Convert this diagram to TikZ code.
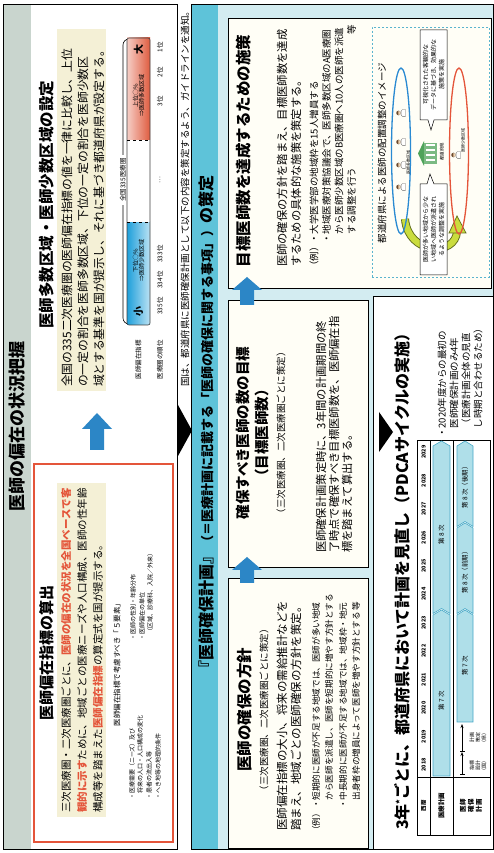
\documentclass[tikz,border=0pt]{standalone}
\usepackage{fontspec}
\setmainfont{Noto Sans CJK JP}
\usetikzlibrary{arrows.meta}

\definecolor{bandgray}{HTML}{C9D5CE}
\definecolor{hlbeige}{HTML}{F4F0D6}
\definecolor{accred}{HTML}{E4553A}
\definecolor{arrblue}{HTML}{2C86C6}
\definecolor{stripcyan}{HTML}{5EC3D9}
\definecolor{bgcyan}{HTML}{D3ECF1}
\definecolor{barcyan}{HTML}{AFDFE9}
\definecolor{barline}{HTML}{48A9C7}
\definecolor{boxcream}{HTML}{FFFEF6}
\definecolor{rankblue}{HTML}{1E9FDA}
\definecolor{rankred}{HTML}{DF5C40}
\definecolor{dashcyan}{HTML}{5AB4CE}
\definecolor{ovblue}{HTML}{2A8AD2}
\definecolor{skin}{HTML}{F2D2AE}
\definecolor{hair}{HTML}{6B4A2E}
\definecolor{bldgreen}{HTML}{4FA35A}
\definecolor{yarrow}{HTML}{CADC3E}
\definecolor{yedge}{HTML}{5F6B1A}

\newcommand\fsz[1]{\fontsize{#1}{#1}\selectfont}
\newcommand\redtxt[1]{\textcolor{accred}{\bfseries #1}}
% block arrow pointing to +u: from u=#1 to u=#2, centred on v=#3,
% shaft half-width #4, head half-width #5, head length #6
\newcommand\blockarrow[6]{%
  \fill[arrblue] (#1,#3-#4) -- (#2-#6,#3-#4) -- (#2-#6,#3-#5) -- (#2,#3)
    -- (#2-#6,#3+#5) -- (#2-#6,#3+#4) -- (#1,#3+#4) -- cycle;}
% chevron bar of the schedule: u from #1 to tip #2, v from #3 to #4, notch depth #5
\newcommand\tlbar[5]{%
  \filldraw[fill=barcyan,draw=barline,line width=0.6pt]
    (#1,#3) -- (#2-5,#3) -- (#2,{(#3+#4)/2}) -- (#2-5,#4) -- (#1,#4)
    -- (#1+#5,{(#3+#4)/2}) -- cycle;}

\begin{document}
\begin{tikzpicture}[x=1pt,y=-1pt,rotate=90,transform shape,
  lbl/.style={inner sep=0pt,outer sep=0pt,anchor=west},
  lblc/.style={inner sep=0pt,outer sep=0pt,anchor=center,align=center},
  wbox/.style={draw=black,line width=0.9pt,fill=boxcream,inner sep=0pt},
  doc/.pic={
    \fill[white,draw=black!60,line width=0.3pt] (-3.4,5.5) -- (-3.4,2.4)
      .. controls (-3.4,0.6) and (3.4,0.6) .. (3.4,2.4) -- (3.4,5.5) -- cycle;
    \fill[skin,draw=black!50,line width=0.2pt] (0,-1.4) circle (2.2);
    \fill[hair] (-2.2,-1.7) .. controls (-2,-4.2) and (2,-4.2) .. (2.2,-1.7) -- cycle;
  }]
\useasboundingbox (0,0) rectangle (853,494);
\fill[white] (0,0) rectangle (853,494);

% ---------------- status of doctor distribution ----------------
\fill[bandgray] (4,3) rectangle (849,31);
\draw[line width=0.8pt] (4,3) rectangle (849,177);
\node[lblc,font=\fsz{17}\bfseries] (hdA) at (426,17) {医師の偏在の状況把握};

% indicator box
\draw[accred,line width=2.6pt] (11,34) rectangle (389,173);
\node[lblc,font=\fsz{15}\bfseries] (tA) at (200,47) {医師偏在指標の算出};
\fill[hlbeige] (36,57) rectangle (370,106);
\node[lbl,font=\fsz{10.5}] (pA1) at (40,66) {三次医療圏・二次医療圏ごとに、\redtxt{医師の偏在の状況を全国ベースで客}};
\node[lbl,font=\fsz{10.5}] (pA2) at (40,82) {\redtxt{観的に示す}ために、地域ごとの医療ニーズや人口構成、医師の性年齢};
\node[lbl,font=\fsz{10.5}] (pA3) at (40,98) {構成等を踏まえた\redtxt{医師偏在指標}の算定式を国が提示する。};
\node[lblc,font=\fsz{7.5}] (five) at (190,117) {医師偏在指標で考慮すべき「５要素」};
\node[lbl,font=\fsz{6}] (e1) at (53,132) {・医療需要（ニーズ）及び};
\node[lbl,font=\fsz{6}] (e1b) at (59,140) {将来の人口・人口構成の変化};
\node[lbl,font=\fsz{6}] (e2) at (53,149) {・患者の流出入等};
\node[lbl,font=\fsz{6}] (e3) at (53,158) {・へき地等の地理的条件};
\node[lbl,font=\fsz{6}] (e4) at (212,133) {・医師の性別・年齢分布};
\node[lbl,font=\fsz{6}] (e5) at (212,142) {・医師偏在の単位};
\node[lbl,font=\fsz{6}] (e5b) at (218,150) {（区域、診療科、入院／外来）};

\blockarrow{403}{440}{97}{7}{15}{16}

% area setting
\node[lblc,font=\fsz{15.5}\bfseries] (tB) at (648,47) {医師多数区域・医師少数区域の設定};
\fill[hlbeige] (462,57) rectangle (824,106);
\node[lbl,font=\fsz{11.8}] (pB1) at (466,67) {全国の335二次医療圏の医師偏在指標の値を一律に比較し、上位};
\node[lbl,font=\fsz{11.8}] (pB2) at (466,83) {の一定の割合を医師多数区域、下位の一定の割合を医師少数区};
\node[lbl,font=\fsz{11.8}] (pB3) at (466,99) {域とする基準を国が提示し、それに基づき都道府県が設定する。};

% ranking bar
\draw[line width=0.6pt,rounded corners=6pt] (529,133) -- (529,123) -- (814,123) -- (814,133);
\node[lblc,fill=white,inner xsep=3pt,font=\fsz{6.5}] (nat) at (673,123) {全国335医療圏};
\shade[left color=rankblue,right color=rankblue!30] (528,127) rectangle (631,150);
\fill[white] (631,127) rectangle (713,150);
\shade[left color=rankred!30,right color=rankred] (713,127) rectangle (815,150);
\draw[line width=0.6pt,black!75,rounded corners=2pt] (528,127) rectangle (815,150);
\draw[dashed,line width=0.7pt] (631,127) -- (631,150);
\draw[dashed,line width=0.7pt] (713,127) -- (713,150);
\node[lblc,font=\fsz{10}\bfseries] (small) at (541,138.5) {小};
\node[lblc,font=\fsz{6}] (low) at (592,138.5) {下位○\%\\⇒医師少数区域};
\node[lblc,font=\fsz{6}] (high) at (757,138.5) {上位○\%\\⇒医師多数区域};
\node[lblc,font=\fsz{10}\bfseries] (large) at (803,138.5) {大};
\node[lblc,font=\fsz{6.5}] (idx) at (493,138.5) {医師偏在指標};
\node[lblc,font=\fsz{6.5}] (rk) at (493,160) {医療圏の順位};
\node[lblc,font=\fsz{6.5}] (r335) at (547,160) {335位};
\node[lblc,font=\fsz{6.5}] (r334) at (573,160) {334位};
\node[lblc,font=\fsz{6.5}] (r333) at (599,160) {333位};
\node[lblc,font=\fsz{6.5}] (rdots) at (673,160) {…};
\node[lblc,font=\fsz{6.5}] (r3) at (752,160) {3位};
\node[lblc,font=\fsz{6.5}] (r2) at (781,160) {2位};
\node[lblc,font=\fsz{6.5}] (r1) at (806,160) {1位};

% flow marker and notice
\fill (397,178) -- (448,178) -- (422.5,192) -- cycle;
\node[lbl,anchor=east,font=\fsz{9.5}] (note) at (846,185) {国は、都道府県に医師確保計画として以下の内容を策定するよう、ガイドラインを通知。};

% ---------------- plan ----------------
\fill[bgcyan] (4,191) rectangle (849,493.5);
\fill[stripcyan] (4,192) rectangle (849,218);
\draw[line width=0.9pt] (4,191) rectangle (849,493.5);
\node[lblc,font=\bfseries] (hdB) at (427,206) {{\fsz{16}『医師確保計画』}{\fsz{13}（＝医療計画に記載する「医師の確保に関する事項」）}{\fsz{16}の策定}};

\node[wbox,minimum width=270pt,minimum height=140pt] (boxA) at (140,298) {};
\node[wbox,minimum width=267pt,minimum height=140pt] (boxB) at (419.5,298) {};
\node[wbox,minimum width=270pt,minimum height=263pt] (boxC) at (700,359.5) {};

% policy box
\node[lblc,font=\fsz{15.5}\bfseries] (tA2) at (143,245) {医師の確保の方針};
\node[lblc,font=\fsz{9.5}] (sA2) at (143,264) {（三次医療圏、二次医療圏ごとに策定）};
\node[lbl,font=\fsz{11.5}] (qA1) at (22,282) {医師偏在指標の大小、将来の需給推計などを};
\node[lbl,font=\fsz{11.5}] (qA2) at (22,296) {踏まえ、地域ごとの医師確保の方針を策定。};
\node[lbl,font=\fsz{8.6}] (xA0) at (18,316) {（例）};
\node[lbl,font=\fsz{8.6}] (xA1) at (44,316) {・短期的に医師が不足する地域では、医師が多い地域};
\node[lbl,font=\fsz{8.6}] (xA2) at (52.6,329) {から医師を派遣し、医師を短期的に増やす方針とする};
\node[lbl,font=\fsz{8.6}] (xA3) at (44,343) {・中長期的に医師が不足する地域では、地域枠・地元};
\node[lbl,font=\fsz{8.6}] (xA4) at (52.6,356) {出身者枠の増員によって医師を増やす方針とする 等};

\blockarrow{270}{296}{247}{7}{15}{13}

% target box
\node[lblc,font=\fsz{14.5}\bfseries] (tB2) at (420,243) {確保すべき医師の数の目標};
\node[lblc,font=\fsz{14.5}\bfseries] (tB3) at (420,262) {（目標医師数）};
\node[lblc,font=\fsz{9.5}] (sB2) at (420,281) {（三次医療圏、二次医療圏ごとに策定）};
\node[lbl,font=\fsz{11.3}] (qB1) at (300,321) {医師確保計画策定時に、3年間の計画期間の終};
\node[lbl,font=\fsz{11.3}] (qB2) at (300,334) {了時点で確保すべき目標医師数を、医師偏在指};
\node[lbl,font=\fsz{11.3}] (qB3) at (300,347) {標を踏まえて算出する。};

\blockarrow{548}{576}{247}{7}{15}{13}

% measures box
\node[lblc,font=\fsz{15.5}\bfseries] (tC2) at (702,244) {目標医師数を達成するための施策};
\node[lbl,font=\fsz{11.3}] (qC1) at (586,282) {医師の確保の方針を踏まえ、目標医師数を達成};
\node[lbl,font=\fsz{11.3}] (qC2) at (586,296) {するための具体的な施策を策定する。};
\node[lbl,font=\fsz{9.5}] (xC0) at (582,314) {（例）};
\node[lbl,font=\fsz{9.5}] (xC1) at (609,314) {・大学医学部の地域枠を15人増員する};
\node[lbl,font=\fsz{9.5}] (xC2) at (609,326.5) {・地域医療対策協議会で、医師多数区域のA医療圏};
\node[lbl,font=\fsz{9.5}] (xC3) at (618.5,339) {から医師少数区域のB医療圏へ10人の医師を派遣};
\node[lbl,font=\fsz{9.5}] (xC4) at (618.5,351.5) {する調整を行う};
\node[lbl,font=\fsz{9.5}] (xC5) at (818,351.5) {等};

% allocation image
\draw[dashcyan,line width=0.8pt,dash pattern=on 2pt off 2pt] (576,372) rectangle (826,489);
\node[lblc,font=\fsz{9.5}] (imgT) at (700,382) {都道府県による医師の配置調整のイメージ};
\draw[yedge,line width=8pt] (634,405) .. controls (598,408) and (596,456) .. (622,457);
\draw[yarrow,line width=6.2pt] (634,405) .. controls (598,408) and (596,456) .. (622,457);
\fill[yarrow,draw=yedge,line width=0.7pt] (620,449) -- (637,457) -- (620,466) -- cycle;
\draw[ovblue,line width=1.3pt] (702,401) ellipse (83 and 9.5);
\draw[accred,line width=1.3pt] (702,459) ellipse (83 and 9.5);
\pic at (666,400) {doc};
\pic at (688,400) {doc};
\pic at (711,400) {doc};
\pic at (740,400) {doc};
\node[lblc,font=\fsz{4}] (many) at (690,408.3) {医師多数区域};
\pic at (698,455) {doc};
\node[lblc,font=\fsz{4}] (few) at (712,463) {医師少数区域};
% prefecture building
\fill[bldgreen] (687,424) -- (699.5,418) -- (712,424) -- cycle;
\fill[bldgreen!75] (689,424) rectangle (710,437);
\foreach \w in {692,697,702,707} \fill[white] (\w,426) rectangle (\w+2,435);
\node[lblc,font=\fsz{4.5}] (pref) at (701,442) {都道府県};
% speech bubbles
\filldraw[fill=white,draw=black,line width=0.5pt] (578,420) -- (669,420) -- (669,427) -- (679,430)
  -- (669,434) -- (669,447) -- (578,447) -- cycle;
\node[lblc,font=\fontsize{6}{8}\selectfont] (bub1) at (623.5,433.5) {医師が多い地域から少な\\い地域へ医師が派遣され\\るような調整を実施};
\filldraw[fill=white,draw=black,line width=0.5pt] (733,420) -- (823,420) -- (823,447) -- (733,447)
  -- (733,434) -- (723,431) -- (733,428) -- cycle;
\node[lblc,font=\fontsize{6}{8}\selectfont] (bub2) at (778,433.5) {可視化された客観的な\\データに基づき、効果的な\\施策を実施};

% ---------------- review cycle ----------------
\fill[white] (4,373) rectangle (557,493.5);
\draw[line width=0.9pt] (4,373) rectangle (557,493.5);
\fill (401,379) -- (441,379) -- (421,393) -- cycle;
\node[lbl,font=\fsz{16}\bfseries] (hdC) at (23,402) {3年\raisebox{5pt}{\fsz{9}*}ごとに、都道府県において計画を見直し（PDCAサイクルの実施）};

\draw[line width=0.6pt] (18,417) rectangle (413,490);
\draw[line width=0.5pt] (18,430) -- (413,430);
\draw[line width=0.5pt] (18,453) -- (413,453);
\draw[line width=0.5pt] (76,417) -- (76,490);
\foreach \i in {0,...,11}
  \node[lblc,font=\fsz{5.5}\bfseries] (yr\i) at ({88+28.45*\i},423.5) {\the\numexpr2018+\i\relax};
\node[lblc,font=\fsz{5.5}\bfseries] (wy) at (47,423.5) {西暦};
\node[lblc,font=\fsz{6.5}\bfseries] (mp) at (47,441.5) {医療計画};
\node[lblc,font=\fontsize{6.5}{8}\selectfont\bfseries] (dp) at (47,471) {医師\\確保\\計画};

\tlbar{77}{243}{433}{450}{0}
\tlbar{239.5}{412}{433}{450}{5}
\node[lblc,font=\fsz{6.5}] (g7) at (152,441.5) {第 7 次};
\node[lblc,font=\fsz{6.5}] (g8) at (318,441.5) {第 8 次};
\tlbar{131}{243}{457}{473}{0}
\tlbar{239.5}{330}{457}{473}{5}
\tlbar{326.5}{412}{457}{473}{5}
\node[lblc,font=\fsz{6.5}] (h7) at (187,465) {第 7 次};
\node[lblc,font=\fsz{6.5}] (h8a) at (282,465) {第 8 次（前期）};
\node[lblc,font=\fsz{6.5}] (h8b) at (367,465) {第 8 次（後期）};
\draw[line width=0.6pt,{Bar[width=5pt]}-{Stealth[length=4pt]}] (78,462) -- (101,462);
\draw[line width=0.6pt,{Bar[width=5pt]}-{Stealth[length=4pt]}] (101,462) -- (129,462);
\node[lblc,font=\fontsize{5}{6}\selectfont] (ind) at (87,478) {指標\\設計\\（国）};
\node[lblc,font=\fontsize{5}{6}\selectfont] (pln) at (115,478) {計画\\策定\\（県）};

\node[lbl,font=\fsz{9.5}] (n1) at (415,442) {・2020年度からの最初の};
\node[lbl,font=\fsz{9.5}] (n2) at (424.5,454) {医師確保計画のみ4年};
\node[lbl,font=\fsz{9.5}] (n3) at (424.5,466) {（医療計画全体の見直};
\node[lbl,font=\fsz{9.5}] (n4) at (424.5,478) {し時期と合わせるため）};
\end{tikzpicture}
\end{document}
